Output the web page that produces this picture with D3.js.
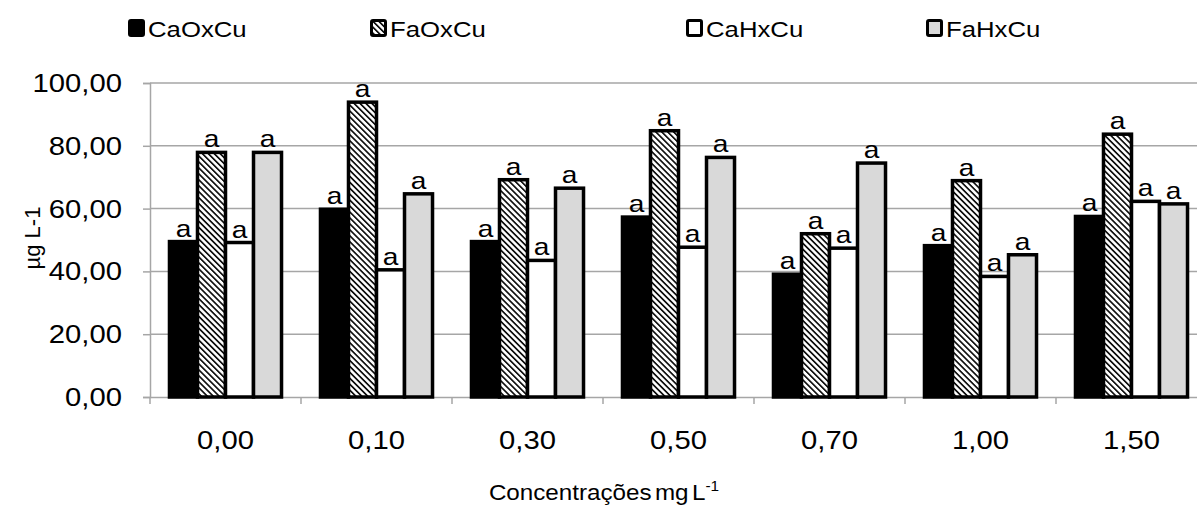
<!DOCTYPE html>
<html>
<head>
<meta charset="utf-8">
<script src="https://cdn.jsdelivr.net/npm/d3@7"></script>
<style>
  html, body { margin: 0; padding: 0; background: #fff; }
  svg { display: block; }
  text { font-family: "Liberation Sans", Arial, sans-serif; fill: #000; }
</style>
</head>
<body>
<svg id="chart" width="1197" height="509"></svg>
<script>
// Concentrations (mg L-1) on the x axis
const categories = ["0,00", "0,10", "0,30", "0,50", "0,70", "1,00", "1,50"];
const seriesNames = ["CaOxCu", "FaOxCu", "CaHxCu", "FaHxCu"];

// Copper content (µg L-1) for each treatment
const caOxCu = [49.5, 59.8, 49.5, 57.3, 39.1, 48.2, 57.5];
const faOxCu = [77.9, 93.9, 69.2, 84.8, 52.0, 68.9, 83.7];
const caHxCu = [49.2, 40.5, 43.5, 47.7, 47.4, 38.4, 62.3];
const faHxCu = [77.9, 64.7, 66.5, 76.3, 74.5, 45.3, 61.5];

// Statistical letters shown above each bar
const letters = [
  ["a", "a", "a", "a", "a", "a", "a"],
  ["a", "a", "a", "a", "a", "a", "a"],
  ["a", "a", "a", "a", "a", "a", "a"],
  ["a", "a", "a", "a", "a", "a", "a"]
];

const yTicks = [0, 20, 40, 60, 80, 100];
const yTickLabels = ["0,00", "20,00", "40,00", "60,00", "80,00", "100,00"];

const seriesValues = [caOxCu, faOxCu, caHxCu, faHxCu];

const svg = d3.select("#chart");
const SX = 1.17;   // horizontal text stretch

function stretchedText(sel, x, y, str, anchor, size) {
  return sel.append("text")
    .attr("transform", `translate(${x},${y}) scale(${SX},1)`)
    .attr("text-anchor", anchor)
    .attr("font-size", size)
    .text(str);
}

// diagonal hatch pattern for FaOxCu
const defs = svg.append("defs");
const pat = defs.append("pattern")
  .attr("id", "hatch")
  .attr("patternUnits", "userSpaceOnUse")
  .attr("width", 4.2).attr("height", 4.2)
  .attr("patternTransform", "rotate(-45)");
pat.append("rect").attr("width", 4.2).attr("height", 4.2).attr("fill", "#fff");
pat.append("rect").attr("x", 0).attr("y", 0).attr("width", 1.7).attr("height", 4.2).attr("fill", "#111");

const fills = ["#000", "url(#hatch)", "#fff", "#d9d9d9"];

const plot = { left: 150, right: 1207, top: 83, bottom: 397 };

const x = d3.scaleBand()
  .domain(categories)
  .range([plot.left, plot.right])
  .paddingInner(0.258)
  .paddingOuter(0.129);

const xs = d3.scaleBand()
  .domain(seriesNames)
  .range([0, x.bandwidth()])
  .padding(0);

const y = d3.scaleLinear().domain([0, 100]).range([plot.bottom, plot.top]);

const gridColor = "#a6a6a6";

// gridlines
svg.append("g")
  .selectAll("line")
  .data(yTicks.filter(d => d > 0))
  .join("line")
  .attr("x1", plot.left).attr("x2", plot.right)
  .attr("y1", d => y(d)).attr("y2", d => y(d))
  .attr("stroke", gridColor).attr("stroke-width", 1.5);

// y axis
const yAxis = svg.append("g")
  .attr("transform", `translate(${plot.left},0)`)
  .call(d3.axisLeft(y).tickValues(yTicks).tickSize(7).tickFormat(() => ""));
yAxis.select(".domain").attr("stroke", gridColor).attr("stroke-width", 1.5);
yAxis.selectAll(".tick line").attr("stroke", gridColor).attr("stroke-width", 1.5);

yTicks.forEach((t, i) => {
  stretchedText(svg, 122, y(t) + 9, yTickLabels[i], "end", 25);
});

// x axis
const xAxis = svg.append("g")
  .attr("transform", `translate(0,${plot.bottom})`)
  .call(d3.axisBottom(x).tickSize(0).tickFormat(() => ""));
xAxis.select(".domain").attr("stroke", gridColor).attr("stroke-width", 1.5);

// category boundary ticks
const bounds = d3.range(categories.length + 1).map(i => plot.left + i * x.step());
svg.append("g").selectAll("line")
  .data(bounds)
  .join("line")
  .attr("x1", d => d).attr("x2", d => d)
  .attr("y1", plot.bottom).attr("y2", plot.bottom + 7)
  .attr("stroke", gridColor).attr("stroke-width", 1.5);

categories.forEach(c => {
  stretchedText(svg, x(c) + x.bandwidth() / 2, 449, c, "middle", 25);
});

// bars
seriesNames.forEach((s, si) => {
  const g = svg.append("g");
  g.selectAll("rect")
    .data(seriesValues[si])
    .join("rect")
    .attr("x", (d, i) => x(categories[i]) + xs(s))
    .attr("y", d => y(d))
    .attr("width", xs.bandwidth())
    .attr("height", d => y(0) - y(d))
    .attr("fill", fills[si])
    .attr("stroke", "#000")
    .attr("stroke-width", 3.5);
  seriesValues[si].forEach((v, i) => {
    stretchedText(svg, x(categories[i]) + xs(s) + xs.bandwidth() / 2, y(v) - 5, letters[si][i], "middle", 24);
  });
});

// y axis title
svg.append("text")
  .attr("transform", "translate(40,238) rotate(-90)")
  .attr("text-anchor", "middle")
  .attr("font-size", 22)
  .text("µg L-1");

// x axis title with superscript
const xt = svg.append("text")
  .attr("transform", "translate(604,500) scale(1.1,1)")
  .attr("text-anchor", "middle")
  .attr("font-size", 22)
  .attr("word-spacing", -3);
xt.append("tspan").text("Concentrações mg L");
xt.append("tspan").attr("font-size", 14).attr("dy", -9).text("-1");

// legend
const legendX = [128, 370, 686, 926];
seriesNames.forEach((s, i) => {
  svg.append("rect")
    .attr("x", legendX[i] + 1.5).attr("y", 20.5)
    .attr("width", 14).attr("height", 15)
    .attr("rx", 1.5)
    .attr("fill", fills[i]).attr("stroke", "#000").attr("stroke-width", 3);
  stretchedText(svg, legendX[i] + 20, 37, s, "start", 22);
});
</script>
</body>
</html>
